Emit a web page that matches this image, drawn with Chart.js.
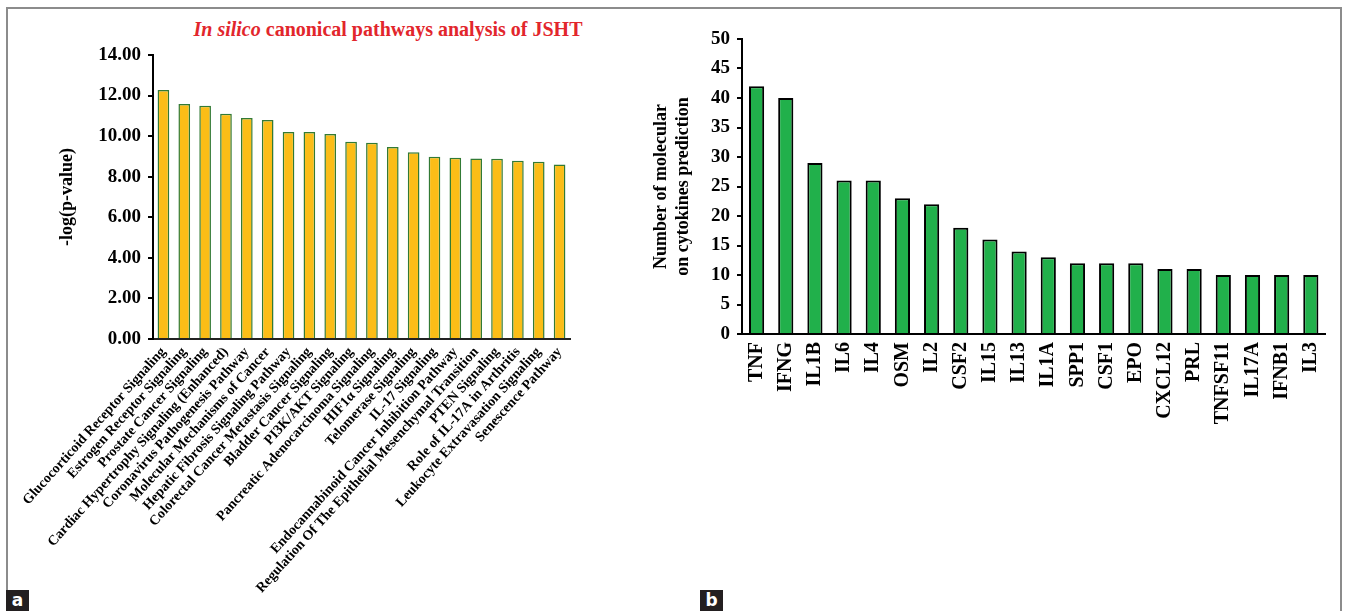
<!DOCTYPE html>
<html>
<head>
<meta charset="utf-8">
<script src="https://cdn.jsdelivr.net/npm/chart.js@4.4.0/dist/chart.umd.min.js"></script>
<style>
  html, body { margin: 0; padding: 0; background: #fff; }
  body { width: 1348px; height: 611px; position: relative; overflow: hidden; }
  #frame { position: absolute; left: 6px; top: 7px; width: 1336px; height: 640px;
           border: 2px solid #8c8c8c; border-bottom: none; box-sizing: border-box; }
  canvas { position: absolute; }
  #cvA { left: 6px; top: 7px; }
  #cvB { left: 646px; top: 7px; }
  #titulo { position: absolute; left: 188px; top: 18px; width: 400px; text-align: center;
            font: bold 20px "Liberation Serif", serif; color: #e2262c; white-space: nowrap; }
  .painel { position: absolute; top: 590px; width: 23px; height: 21px; background: #231f20;
            color: #fff; font: bold 17px "DejaVu Sans", sans-serif; text-align: center; line-height: 21px; }
</style>
</head>
<body>
<div id="frame"></div>
<div id="titulo"><i>In silico</i> canonical pathways analysis of JSHT</div>
<canvas id="cvA" width="640" height="604"></canvas>
<canvas id="cvB" width="697" height="604"></canvas>
<div class="painel" style="left:6px">a</div>
<div class="painel" style="left:700px">b</div>
<script>
// ===== Dados (a) vias canônicas =====
const pathwayLabels = [
  "Glucocorticoid Receptor Signaling",
  "Estrogen Receptor Signaling",
  "Prostate Cancer Signaling",
  "Cardiac Hypertrophy Signaling (Enhanced)",
  "Coronavirus Pathogenesis Pathway",
  "Molecular Mechanisms of Cancer",
  "Hepatic Fibrosis Signaling Pathway",
  "Colorectal Cancer Metastasis Signaling",
  "Bladder Cancer Signaling",
  "PI3K/AKT Signaling",
  "Pancreatic Adenocarcinoma Signaling",
  "HIF1α Signaling",
  "Telomerase Signaling",
  "IL-17 Signaling",
  "Endocannabinoid Cancer Inhibition Pathway",
  "Regulation Of The Epithelial Mesenchymal Transition",
  "PTEN Signaling",
  "Role of IL-17A in Arthritis",
  "Leukocyte Extravasation Signaling",
  "Senescence Pathway"
];
const pathwayValues = [12.28, 11.59, 11.50, 11.10, 10.90, 10.80, 10.20, 10.20, 10.10, 9.72,
                       9.68, 9.46, 9.21, 8.98, 8.93, 8.90, 8.88, 8.79, 8.74, 8.60];
const pathwayTicks = [0, 2, 4, 6, 8, 10, 12, 14];

// ===== Dados (b) citocinas =====
const cytokineLabels = ["TNF", "IFNG", "IL1B", "IL6", "IL4", "OSM", "IL2", "CSF2", "IL15", "IL13",
                        "IL1A", "SPP1", "CSF1", "EPO", "CXCL12", "PRL", "TNFSF11", "IL17A", "IFNB1", "IL3"];
const cytokineCounts = [42, 40, 29, 26, 26, 23, 22, 18, 16, 14, 13, 12, 12, 12, 11, 11, 10, 10, 10, 10];
const cytokineTicks = [0, 5, 10, 15, 20, 25, 30, 35, 40, 45, 50];

const serif = "'Liberation Serif', 'Times New Roman', serif";

// ===== Gráfico (a) =====
new Chart(document.getElementById("cvA"), {
  type: "bar",
  data: {
    labels: pathwayLabels,
    datasets: [{
      data: pathwayValues,
      backgroundColor: "#fbbd17",
      borderColor: "#327a35",
      borderWidth: 1.5,
      barPercentage: 0.56,
      categoryPercentage: 1
    }]
  },
  options: {
    responsive: false,
    animation: false,
    layout: { padding: { top: 48, right: 76, bottom: 0, left: 0 } },
    plugins: { legend: { display: false }, tooltip: { enabled: false } },
    scales: {
      x: {
        grid: { display: false, drawTicks: false },
        border: { color: "#222", width: 2 },
        ticks: {
          autoSkip: false, minRotation: 48, maxRotation: 48, padding: 5,
          color: "#000", font: { family: serif, size: 14, weight: "bold" }
        },
        // rótulos longos não devem empurrar o eixo y
        afterFit: s => { s.height = 272; s.paddingLeft = 0; s.paddingRight = 0; }
      },
      y: {
        min: 0, max: 14,
        afterBuildTicks: s => { s.ticks = pathwayTicks.map(v => ({ value: v })); },
        grid: { drawOnChartArea: false, drawTicks: true, tickLength: 5, color: "#000", lineWidth: 2 },
        border: { color: "#000", width: 2 },
        ticks: {
          padding: 7, color: "#000",
          font: { family: serif, size: 19, weight: "bold" },
          callback: v => Number(v).toFixed(2)
        },
        title: {
          display: true, text: "-log(p-value)", color: "#000",
          font: { family: serif, size: 18, weight: "bold" },
          padding: { top: 51, bottom: 0 }
        },
        afterFit: s => { s.width = 147; }
      }
    }
  }
});

// ===== Gráfico (b) =====
new Chart(document.getElementById("cvB"), {
  type: "bar",
  data: {
    labels: cytokineLabels,
    datasets: [{
      data: cytokineCounts,
      backgroundColor: "#21b04b",
      borderColor: "#000",
      borderWidth: 2,
      barPercentage: 0.52,
      categoryPercentage: 1
    }]
  },
  options: {
    responsive: false,
    animation: false,
    layout: { padding: { top: 32, right: 7, bottom: 0, left: 0 } },
    plugins: { legend: { display: false }, tooltip: { enabled: false } },
    scales: {
      x: {
        grid: { display: false, drawTicks: false },
        border: { color: "#000", width: 2 },
        ticks: {
          autoSkip: false, minRotation: 90, maxRotation: 90, padding: 8,
          color: "#000", font: { family: serif, size: 20, weight: "bold" }
        },
        afterFit: s => { s.height = 277; }
      },
      y: {
        min: 0, max: 50,
        afterBuildTicks: s => { s.ticks = cytokineTicks.map(v => ({ value: v })); },
        grid: { drawOnChartArea: false, drawTicks: true, tickLength: 5, color: "#000", lineWidth: 2 },
        border: { color: "#000", width: 2 },
        ticks: {
          padding: 7, color: "#000",
          font: { family: serif, size: 19, weight: "bold" }
        },
        title: {
          display: true, text: ["Number of molecular", "on cytokines prediction"], color: "#000",
          font: { family: serif, size: 18, weight: "bold" },
          padding: { top: 5, bottom: 0 }
        },
        afterFit: s => { s.width = 96; }
      }
    }
  }
});
</script>
</body>
</html>
